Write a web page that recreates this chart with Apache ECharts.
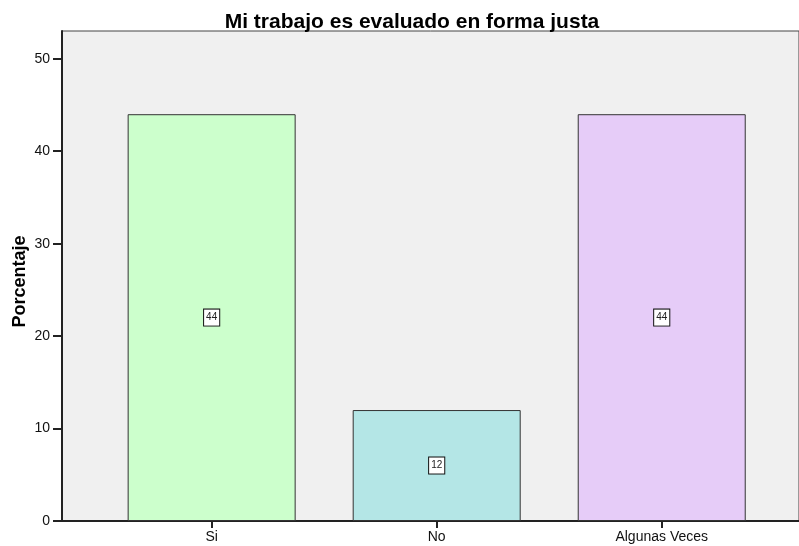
<!DOCTYPE html>
<html>
<head>
<meta charset="utf-8">
<script src="https://cdn.jsdelivr.net/npm/echarts@6/dist/echarts.min.js"></script>
<style>
  html, body { margin: 0; padding: 0; background: #ffffff; }
  #chart { width: 799px; height: 546px; }
</style>
</head>
<body>
<div id="chart"></div>
<script>
// Response categories and their percentages
const categories = ['Si', 'No', 'Algunas Veces'];
const percentages = [44, 12, 44];
const yTickValues = [0, 10, 20, 30, 40, 50];
const barColors = ['#ccffcc', '#b4e6e6', '#e6ccf8'];

const chart = echarts.init(document.getElementById('chart'));
const font = '"Liberation Sans", Arial, sans-serif';
const positions = categories.map((_, i) => i);

chart.setOption({
  animation: false,
  title: {
    text: 'Mi trabajo es evaluado en forma justa',
    left: 407,
    textAlign: 'center',
    top: 7,
    textStyle: { fontFamily: font, fontSize: 21, fontWeight: 'bold', color: '#000' }
  },
  grid: {
    left: 62, top: 31, right: 0, bottom: 25,
    containLabel: false,
    outerBoundsMode: 'none',
    show: true,
    backgroundColor: '#f0f0f0',
    borderColor: '#444',
    borderWidth: 1
  },
  xAxis: {
    type: 'value',
    min: -0.665,
    max: 2.61,
    splitLine: { show: false },
    axisLine: { show: true, onZero: false, lineStyle: { color: '#222', width: 2 } },
    axisTick: { show: true, inside: false, customValues: positions, length: 7, lineStyle: { color: '#222', width: 2 } },
    axisLabel: {
      customValues: positions,
      formatter: v => categories[Math.round(v)],
      fontFamily: font, fontSize: 14, color: '#111', margin: 9
    }
  },
  yAxis: {
    type: 'value',
    min: 0,
    max: 53,
    name: 'Porcentaje',
    nameLocation: 'middle',
    nameGap: 33,
    nameRotate: 90,
    nameMoveOverlap: false,
    nameTextStyle: { fontFamily: font, fontSize: 18, fontWeight: 'bold', color: '#000', padding: [0, 11, 0, 0] },
    splitLine: { show: false },
    axisLine: { show: true, onZero: false, lineStyle: { color: '#222', width: 2 } },
    axisTick: { show: true, inside: false, customValues: yTickValues, length: 9, lineStyle: { color: '#222', width: 2 } },
    axisLabel: {
      customValues: yTickValues,
      fontFamily: font, fontSize: 14, color: '#111', margin: 12
    }
  },
  series: [{
    type: 'bar',
    barWidth: 168,
    data: percentages.map((v, i) => ({
      value: [positions[i], v],
      itemStyle: { color: barColors[i], borderColor: '#333', borderWidth: 1 }
    })),
    label: {
      show: true,
      position: 'inside',
      formatter: p => p.value[1],
      fontFamily: font,
      fontSize: 10,
      lineHeight: 11,
      color: '#222',
      backgroundColor: '#ffffff',
      borderColor: '#111',
      borderWidth: 1,
      padding: [3, 2, 2, 2]
    }
  }]
});
</script>
</body>
</html>
